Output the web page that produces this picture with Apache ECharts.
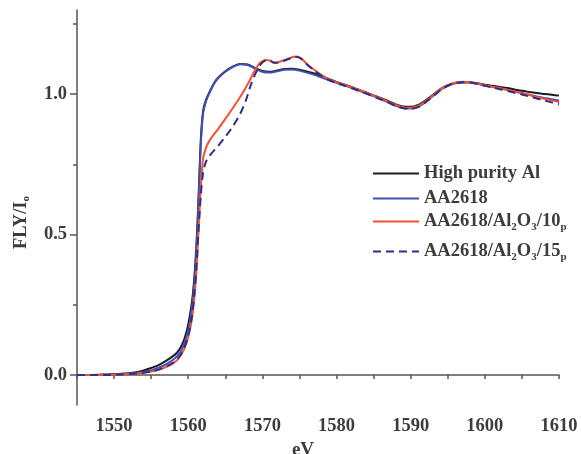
<!DOCTYPE html>
<html><head><meta charset="utf-8">
<script src="https://cdn.jsdelivr.net/npm/echarts@6/dist/echarts.min.js"></script>
<style>html,body{margin:0;padding:0;background:#fff}#c{width:581px;height:454px}</style>
</head><body><div id="c"></div>
<script>
const seriesNames = ['High purity Al', 'AA2618', 'AA2618/Al2O3/10p', 'AA2618/Al2O3/15p'];
const xTickLabels = [1550, 1560, 1570, 1580, 1590, 1600, 1610];
const yTickLabels = [0, 0.5, 1.0];
const yMinorTicks = [0.25, 0.75, 1.25];

const highPurityAl = [[1545,0.0],[1547,0.0],[1549,0.002],[1551,0.004],[1553,0.01],[1554,0.016],[1555,0.025],[1556,0.035],[1557,0.05],[1558,0.068],[1558.5,0.08],[1559,0.1],[1559.5,0.13],[1560,0.18],[1560.5,0.26],[1560.8,0.34],[1561.1,0.46],[1561.4,0.64],[1561.7,0.84],[1562,0.94],[1562.4,0.98],[1563,1.015],[1563.5,1.04],[1564,1.058],[1565,1.082],[1566,1.098],[1567,1.108],[1568,1.106],[1569,1.094],[1570,1.083],[1571,1.08],[1572,1.085],[1573,1.09],[1574,1.091],[1575,1.087],[1576,1.081],[1577,1.074],[1578,1.064],[1579,1.054],[1580,1.044],[1581,1.035],[1582,1.026],[1583,1.016],[1584,1.006],[1585,0.996],[1586,0.986],[1587,0.975],[1588,0.964],[1589,0.956],[1590,0.955],[1591,0.962],[1592,0.978],[1593,0.998],[1594,1.018],[1595,1.032],[1596,1.04],[1597,1.043],[1598,1.043],[1599,1.039],[1600,1.034],[1601,1.03],[1602,1.026],[1603,1.022],[1604,1.017],[1605,1.012],[1606,1.008],[1607,1.004],[1608,1.001],[1609,0.998],[1610,0.995]];

const aa2618 = [[1545,0.0],[1547,0.0],[1549,0.001],[1551,0.003],[1553,0.007],[1555,0.017],[1556,0.026],[1557,0.038],[1558,0.055],[1558.5,0.067],[1559,0.085],[1559.5,0.115],[1560,0.16],[1560.5,0.24],[1560.8,0.32],[1561.1,0.44],[1561.4,0.62],[1561.7,0.82],[1562,0.93],[1562.4,0.975],[1563,1.012],[1563.5,1.038],[1564,1.056],[1565,1.08],[1566,1.097],[1567,1.107],[1568,1.104],[1569,1.092],[1570,1.08],[1571,1.077],[1572,1.082],[1573,1.087],[1574,1.088],[1575,1.084],[1576,1.077],[1577,1.069],[1578,1.059],[1579,1.05],[1580,1.041],[1581,1.032],[1582,1.023],[1583,1.013],[1584,1.003],[1585,0.993],[1586,0.982],[1587,0.971],[1588,0.959],[1589,0.951],[1590,0.949],[1591,0.955],[1592,0.972],[1593,0.994],[1594,1.015],[1595,1.03],[1596,1.039],[1597,1.042],[1598,1.042],[1599,1.037],[1600,1.031],[1601,1.026],[1602,1.021],[1603,1.016],[1604,1.01],[1605,1.004],[1606,0.998],[1607,0.992],[1608,0.987],[1609,0.982],[1610,0.978]];

const composite10 = [[1545,0.0],[1547,0.0],[1549,0.0],[1551,0.002],[1553,0.005],[1555,0.012],[1556,0.018],[1557,0.028],[1558,0.042],[1558.5,0.053],[1559,0.07],[1559.5,0.095],[1560,0.135],[1560.5,0.2],[1560.8,0.27],[1561.1,0.37],[1561.4,0.52],[1561.7,0.67],[1562,0.77],[1562.4,0.81],[1563,0.84],[1564,0.875],[1565,0.912],[1566,0.95],[1567,0.99],[1568,1.035],[1569,1.085],[1569.6,1.11],[1570,1.118],[1570.5,1.122],[1571,1.12],[1571.5,1.112],[1572,1.113],[1573,1.122],[1574,1.132],[1574.6,1.134],[1575.2,1.128],[1576,1.108],[1577,1.087],[1578,1.068],[1579,1.053],[1580,1.043],[1581,1.034],[1582,1.025],[1583,1.015],[1584,1.005],[1585,0.995],[1586,0.984],[1587,0.973],[1588,0.962],[1589,0.954],[1590,0.952],[1591,0.958],[1592,0.975],[1593,0.996],[1594,1.017],[1595,1.032],[1596,1.041],[1597,1.044],[1598,1.043],[1599,1.038],[1600,1.032],[1601,1.027],[1602,1.022],[1603,1.016],[1604,1.01],[1605,1.004],[1606,0.997],[1607,0.99],[1608,0.984],[1609,0.978],[1610,0.972]];

const composite15 = [[1545,0.0],[1547,0.0],[1549,0.0],[1551,0.002],[1553,0.005],[1555,0.012],[1556,0.019],[1557,0.03],[1558,0.045],[1558.5,0.056],[1559,0.073],[1559.5,0.1],[1560,0.14],[1560.5,0.21],[1560.8,0.28],[1561.1,0.38],[1561.4,0.52],[1561.7,0.64],[1562,0.72],[1562.4,0.76],[1563,0.785],[1564,0.815],[1565,0.848],[1566,0.885],[1567,0.93],[1567.8,0.98],[1568.4,1.03],[1569,1.07],[1569.6,1.1],[1570,1.113],[1570.5,1.12],[1571,1.12],[1571.5,1.113],[1572,1.112],[1573,1.12],[1574,1.13],[1574.6,1.133],[1575.2,1.127],[1576,1.106],[1577,1.084],[1578,1.065],[1579,1.05],[1580,1.04],[1581,1.031],[1582,1.022],[1583,1.012],[1584,1.002],[1585,0.992],[1586,0.981],[1587,0.97],[1588,0.958],[1589,0.95],[1590,0.948],[1591,0.954],[1592,0.971],[1593,0.992],[1594,1.014],[1595,1.03],[1596,1.04],[1597,1.043],[1598,1.042],[1599,1.036],[1600,1.03],[1601,1.024],[1602,1.018],[1603,1.012],[1604,1.005],[1605,0.999],[1606,0.992],[1607,0.985],[1608,0.978],[1609,0.971],[1610,0.964]];

const FONT = 'Liberation Serif';
const TXT = '#3c3c3c';
const AXC = '#555';
const FS = 18.5;
const FW = 'bold';
const rich = {
  n: {fontFamily: FONT, fontSize: FS, fontWeight: FW, color: TXT, lineHeight: 22},
  s: {fontFamily: FONT, fontSize: 11, fontWeight: FW, color: TXT, lineHeight: 11, verticalAlign: 'bottom'}
};
const legendFmt = function (name) {
  if (name === 'AA2618/Al2O3/10p') return '{n|AA2618/Al}{s|2}{n|O}{s|3}{n|/10}{s|p}';
  if (name === 'AA2618/Al2O3/15p') return '{n|AA2618/Al}{s|2}{n|O}{s|3}{n|/15}{s|p}';
  return '{n|' + name + '}';
};
const legendTops = [164, 189, 212, 242];
const chart = echarts.init(document.getElementById('c'));
const yBase = {type: 'value', min: -0.107, max: 1.3, position: 'left', splitLine: {show: false}};
chart.setOption({
  animation: false,
  backgroundColor: '#fff',
  grid: {left: 77, right: 22, top: 10, bottom: 49, containLabel: false, outerBoundsMode: 'none'},
  legend: seriesNames.map((n, i) => ({
    data: [n], orient: 'vertical', left: 372, top: legendTops[i],
    itemWidth: 46, itemHeight: 14, itemGap: 0, padding: 0,
    itemStyle: {opacity: 0, color: 'transparent', borderWidth: 0},
    formatter: legendFmt, textStyle: {rich: rich}, selectedMode: false
  })),
  xAxis: {
    type: 'value', min: 1545, max: 1610, interval: 5,
    name: 'eV', nameLocation: 'middle', nameGap: 31,
    nameTextStyle: {fontFamily: FONT, fontSize: 19, fontWeight: FW, color: TXT, padding: [0, 30, 0, 0]},
    axisLine: {lineStyle: {color: AXC, width: 1.5}},
    axisTick: {length: 4, lineStyle: {color: AXC, width: 1.5}},
    axisLabel: {margin: 12, fontFamily: FONT, fontSize: FS, fontWeight: FW, color: TXT,
      formatter: v => (xTickLabels.indexOf(Math.round(v)) >= 0 ? String(Math.round(v)) : '')},
    splitLine: {show: false}
  },
  yAxis: [
    Object.assign({}, yBase, {
      name: '{n|FLY/I}{s|o}', nameLocation: 'middle', nameGap: 45,
      nameTextStyle: {rich: rich, padding: [0, 0, 0, -30]},
      axisLine: {lineStyle: {color: AXC, width: 1.5}},
      axisTick: {length: 7, customValues: yTickLabels, lineStyle: {color: AXC, width: 1.5}},
      axisLabel: {margin: 10, customValues: yTickLabels, fontFamily: FONT, fontSize: FS, fontWeight: FW, color: TXT,
        formatter: v => v.toFixed(1)}
    }),
    Object.assign({}, yBase, {
      axisLine: {show: false},
      axisTick: {length: 4, customValues: yMinorTicks, lineStyle: {color: AXC, width: 1.5}},
      axisLabel: {show: false}
    })
  ],
  series: [
    {name: seriesNames[0], type: 'line', data: highPurityAl, symbol: 'none', smooth: 0.3, color: '#1c1c1c', lineStyle: {width: 2, color: '#1c1c1c'}},
    {name: seriesNames[1], type: 'line', data: aa2618, symbol: 'none', smooth: 0.3, color: '#3f51b5', lineStyle: {width: 2, color: '#3f51b5'}},
    {name: seriesNames[2], type: 'line', data: composite10, symbol: 'none', smooth: 0.3, color: '#f4502f', lineStyle: {width: 2, color: '#f4502f'}},
    {name: seriesNames[3], type: 'line', data: composite15, symbol: 'none', smooth: 0.3, color: '#2b2e8c', lineStyle: {width: 2, color: '#2b2e8c', type: [8, 5]}}
  ]
});
</script></body></html>
